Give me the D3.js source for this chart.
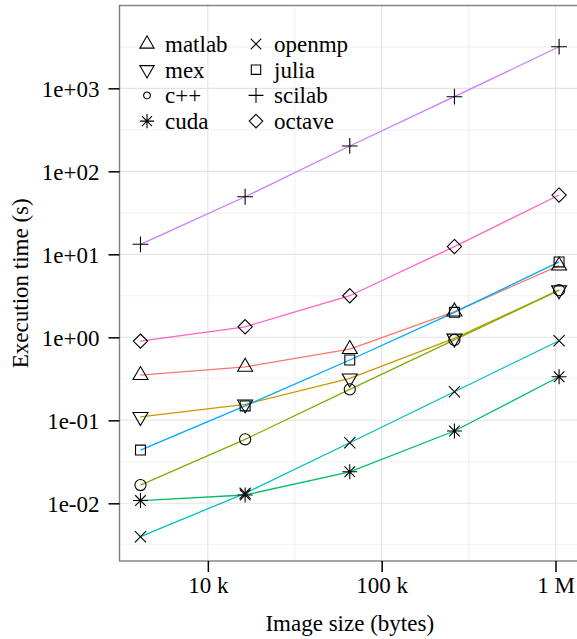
<!DOCTYPE html>
<html>
<head>
<meta charset="utf-8">
<script src="https://cdn.jsdelivr.net/npm/d3@7"></script>
<style>
  html, body { margin: 0; padding: 0; background: #fff; }
  svg { display: block; }
  svg text { font-family: 'Liberation Serif' !important; }
</style>
</head>
<body>
<svg id="chart" width="577" height="639"></svg>
<script>
// ---- data ----
const sizes = [4096, 16384, 65536, 262144, 1048576];
const seriesNames = ["matlab", "mex", "c++", "cuda", "openmp", "julia", "scilab", "octave"];
const matlab = [0.35, 0.44, 0.72, 2.04, 7.3];
const mex    = [0.110, 0.156, 0.32, 0.97, 3.7];
const cpp    = [0.0166, 0.059, 0.236, 0.93, 3.7];
const cuda   = [0.0108, 0.0126, 0.024, 0.0743, 0.335];
const openmp = [0.00396, 0.0132, 0.0537, 0.221, 0.91];
const julia  = [0.0438, 0.149, 0.533, 2.0, 8.1];
const scilab = [13.2, 49.4, 202, 793, 3170];
const octave = [0.90, 1.34, 3.17, 12.4, 51.8];
const seriesColors = ["#F8766D", "#CD9600", "#7CAE00", "#00BE67", "#00BFC4", "#00A9FF", "#C77CFF", "#FF61CC"];
const seriesShapes = ["triangle", "triangleDown", "circle", "asterisk", "cross", "square", "plus", "diamond"];
const xTickValues = [1e4, 1e5, 1e6];
const xTickLabels = ["10 k", "100 k", "1 M"];
const yTickValues = [1e-2, 1e-1, 1e0, 1e1, 1e2, 1e3];
const yTickLabels = ["1e-02", "1e-01", "1e+00", "1e+01", "1e+02", "1e+03"];
const xMinor = [Math.pow(10, 4.5), Math.pow(10, 5.5)];
const yMinor = [-2.5, -1.5, -0.5, 0.5, 1.5, 2.5, 3.5].map(e => Math.pow(10, e));
const xTitle = "Image size (bytes)";
const yTitle = "Execution time (s)";

const FONT = "Liberation Serif";

const allValues = [matlab, mex, cpp, cuda, openmp, julia, scilab, octave];
const series = seriesNames.map((n, i) => ({
  name: n, color: seriesColors[i], shape: seriesShapes[i],
  points: sizes.map((s, j) => ({x: s, y: allValues[i][j]}))
}));

// ---- layout ----
const panel = {left: 119.5, right: 580, top: 5.5, bottom: 561};
const svg = d3.select("#chart").attr("font-family", FONT);

const x = d3.scaleLog().domain([Math.pow(10, 3.4917), Math.pow(10, 6.1409)]).range([panel.left, panel.right]);
const y = d3.scaleLog().domain([Math.pow(10, -2.695), Math.pow(10, 3.998)]).range([panel.bottom, panel.top]);

svg.append("rect").attr("x", panel.left).attr("y", panel.top)
  .attr("width", panel.right - panel.left).attr("height", panel.bottom - panel.top)
  .attr("fill", "#fff");

const grid = svg.append("g");
grid.selectAll(".ymin").data(yMinor).enter().append("line")
  .attr("x1", panel.left).attr("x2", panel.right)
  .attr("y1", d => y(d)).attr("y2", d => y(d))
  .attr("stroke", "#f2f2f2").attr("stroke-width", 1.1);
grid.selectAll(".xmin").data(xMinor).enter().append("line")
  .attr("y1", panel.top).attr("y2", panel.bottom)
  .attr("x1", d => x(d)).attr("x2", d => x(d))
  .attr("stroke", "#f2f2f2").attr("stroke-width", 1.1);
grid.selectAll(".ymaj").data(yTickValues).enter().append("line")
  .attr("x1", panel.left).attr("x2", panel.right)
  .attr("y1", d => y(d)).attr("y2", d => y(d))
  .attr("stroke", "#e3e3e3").attr("stroke-width", 1.1);
grid.selectAll(".xmaj").data(xTickValues).enter().append("line")
  .attr("y1", panel.top).attr("y2", panel.bottom)
  .attr("x1", d => x(d)).attr("x2", d => x(d))
  .attr("stroke", "#e3e3e3").attr("stroke-width", 1.1);

// ---- shapes ----
const R = 5.57;
function shapePath(shape, r) {
  const p = d3.path();
  if (shape === "triangle" || shape === "triangleDown") {
    const s = shape === "triangle" ? 1 : -1;
    const xc = 1.3468 * r, top = 1.5551 * r, bot = 0.7776 * r;
    p.moveTo(0, -s * top); p.lineTo(xc, s * bot); p.lineTo(-xc, s * bot); p.closePath();
  } else if (shape === "circle") {
    p.moveTo(r, 0); p.arc(0, 0, r, 0, 2 * Math.PI);
  } else if (shape === "square") {
    const h = 0.8862 * r;
    p.rect(-h, -h, 2 * h, 2 * h);
  } else if (shape === "diamond") {
    const h = 1.28 * r;
    p.moveTo(0, -h); p.lineTo(h, 0); p.lineTo(0, h); p.lineTo(-h, 0); p.closePath();
  } else if (shape === "cross") {
    p.moveTo(-r, -r); p.lineTo(r, r); p.moveTo(-r, r); p.lineTo(r, -r);
  } else if (shape === "plus") {
    const h = Math.SQRT2 * r;
    p.moveTo(-h, 0); p.lineTo(h, 0); p.moveTo(0, -h); p.lineTo(0, h);
  } else if (shape === "asterisk") {
    const h = Math.SQRT2 * r * 0.95;
    const d = r * 0.95;
    p.moveTo(-d, -d); p.lineTo(d, d); p.moveTo(-d, d); p.lineTo(d, -d);
    p.moveTo(-h, 0); p.lineTo(h, 0); p.moveTo(0, -h); p.lineTo(0, h);
  }
  return p.toString();
}

// ---- lines ----
const line = d3.line().x(d => x(d.x)).y(d => y(d.y));
svg.append("g").selectAll("path").data(series).enter().append("path")
  .attr("d", d => line(d.points))
  .attr("fill", "none").attr("stroke", d => d.color).attr("stroke-width", 1.3);

// ---- points ----
const ptsG = svg.append("g");
series.forEach(s => {
  ptsG.selectAll(null).data(s.points).enter().append("path")
    .attr("transform", d => `translate(${x(d.x)},${y(d.y)})`)
    .attr("d", shapePath(s.shape, R))
    .attr("fill", "none").attr("stroke", "#000").attr("stroke-width", 1.1);
});

// ---- panel border ----
svg.append("rect").attr("x", panel.left).attr("y", panel.top)
  .attr("width", panel.right - panel.left).attr("height", panel.bottom - panel.top)
  .attr("fill", "none").attr("stroke", "#7f7f7f").attr("stroke-width", 1.4);

function styleText(sel) {
  sel.attr("font-family", FONT).attr("font-size", 23)
     .style("font-family", "'Liberation Serif'").style("font-size", "23px").style("fill", "#000");
}

// ---- axes ----
const xAxis = d3.axisBottom(x).tickValues(xTickValues)
  .tickFormat((d, i) => xTickLabels[i]).tickSize(11).tickPadding(4);
const gx = svg.append("g").attr("transform", `translate(0,${panel.bottom})`).call(xAxis);
gx.attr("font-family", FONT).attr("font-size", 23);
gx.select(".domain").remove();
gx.selectAll(".tick line").attr("stroke", "#000").attr("stroke-width", 1.5);
gx.selectAll(".tick text").call(styleText).attr("dy", "0.72em").attr("y", 15);

const yAxis = d3.axisLeft(y).tickValues(yTickValues)
  .tickFormat((d, i) => yTickLabels[i]).tickSize(11).tickPadding(9);
const gy = svg.append("g").attr("transform", `translate(${panel.left},0)`).call(yAxis);
gy.attr("font-family", FONT).attr("font-size", 23);
gy.select(".domain").remove();
gy.selectAll(".tick line").attr("stroke", "#000").attr("stroke-width", 1.5);
gy.selectAll(".tick text").call(styleText).attr("dy", "0.34em");

// titles
svg.append("text").attr("x", (panel.left + panel.right) / 2).attr("y", 631)
  .attr("text-anchor", "middle").call(styleText).text(xTitle);
svg.append("text")
  .attr("transform", `translate(28,${(panel.top + panel.bottom) / 2}) rotate(-90)`)
  .attr("text-anchor", "middle").call(styleText).text(yTitle);

// ---- legend ----
const legX = [147, 256];
const legY0 = 44, legDY = 25.7;
const legendItems = series.map((s, i) => ({
  s, cx: legX[Math.floor(i / 4)], cy: legY0 + (i % 4) * legDY
}));
const leg = svg.append("g").attr("font-family", FONT).attr("font-size", 23);
leg.selectAll("path").data(legendItems).enter().append("path")
  .attr("transform", d => `translate(${d.cx},${d.cy})`)
  .attr("d", d => shapePath(d.s.shape, d.s.shape === "circle" ? 3.4 : R * 0.95))
  .attr("fill", "none").attr("stroke", "#000").attr("stroke-width", 1.1);
leg.selectAll("text").data(legendItems).enter().append("text")
  .attr("x", d => d.cx + 18).attr("y", d => d.cy + 8)
  .call(styleText).text(d => d.s.name);
</script>
</body>
</html>
